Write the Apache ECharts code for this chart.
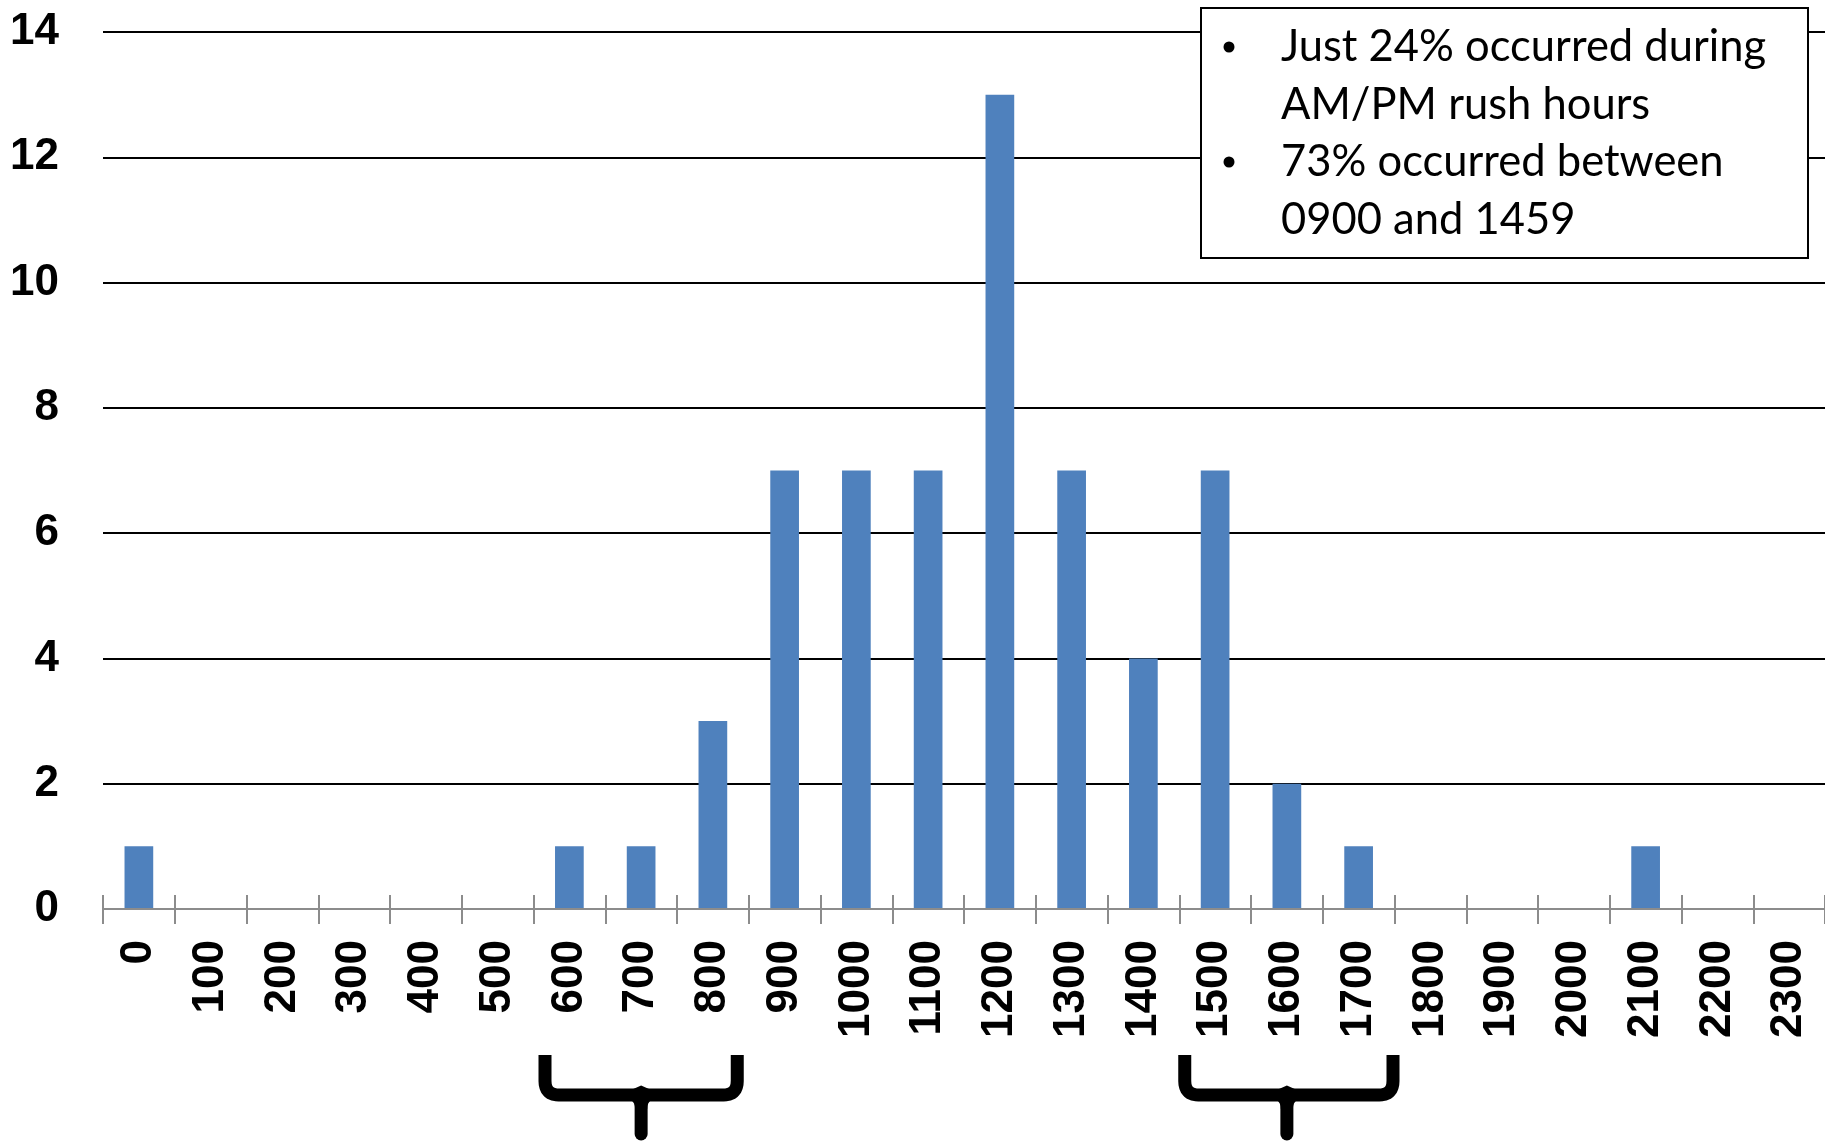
<!DOCTYPE html>
<html>
<head>
<meta charset="utf-8">
<script src="https://cdn.jsdelivr.net/npm/echarts@6/dist/echarts.min.js"></script>
<style>
  html, body { margin: 0; padding: 0; background: #ffffff; }
  #chart { width: 1825px; height: 1143px; }
</style>
</head>
<body>
<div id="chart"></div>
<script>
// Time-of-day bins (hhmm, hourly) and the number of incidents in each
const hours = ['0', '100', '200', '300', '400', '500', '600', '700', '800', '900', '1000', '1100',
               '1200', '1300', '1400', '1500', '1600', '1700', '1800', '1900', '2000', '2100', '2200', '2300'];
const counts = [1, 0, 0, 0, 0, 0, 1, 1, 3, 7, 7, 7, 13, 7, 4, 7, 2, 1, 0, 0, 0, 1, 0, 0];

// Count axis range
const countMin = 0;
const countMax = 14;
const countStep = 2;

// Rush-hour windows marked with braces under the axis
const rushWindows = [['600', '800'], ['1500', '1700']];

// Text of the note box
const noteLines = [
  { bullet: true,  text: 'Just 24% occurred during' },
  { bullet: false, text: 'AM/PM rush hours' },
  { bullet: true,  text: '73% occurred between' },
  { bullet: false, text: '0900 and 1459' }
];

const chart = echarts.init(document.getElementById('chart'), null, { renderer: 'canvas' });

const tickColor = '#8c8c8c';
const axisFont = { fontFamily: '"Liberation Sans", Arial, sans-serif', fontWeight: 'bold', fontSize: 44, color: '#000' };

chart.setOption({
  animation: false,
  backgroundColor: '#ffffff',
  grid: { left: 103, right: 0, top: 32, bottom: 234, containLabel: false },
  xAxis: [
    {
      type: 'category',
      data: hours,
      boundaryGap: true,
      z: 3,
      axisLine: { show: true, lineStyle: { color: tickColor, width: 2 } },
      axisTick: { show: true, interval: 0, length: 15, inside: false, lineStyle: { color: tickColor, width: 2 } },
      axisLabel: Object.assign({ interval: 0, rotate: 90, margin: 31 }, axisFont),
      splitLine: { show: false }
    },
    {
      // same band scale, drawing the upper half of each tick mark
      type: 'category',
      data: hours,
      position: 'bottom',
      boundaryGap: true,
      z: 3,
      axisLine: { show: false },
      axisTick: { show: true, interval: 0, length: 14, inside: true, lineStyle: { color: tickColor, width: 2 } },
      axisLabel: { show: false },
      splitLine: { show: false }
    }
  ],
  yAxis: {
    type: 'value',
    min: countMin,
    max: countMax,
    interval: countStep,
    axisLine: { show: false },
    axisTick: { show: false },
    axisLabel: Object.assign({ margin: 44 }, axisFont),
    splitLine: { show: true, lineStyle: { color: '#000000', width: 2 } }
  },
  series: [{
    type: 'bar',
    data: counts,
    xAxisIndex: 0,
    barWidth: '40%',
    itemStyle: { color: '#4f81bd' },
    z: 2
  }]
});

// Note box in the upper right
const noteFont = { fontFamily: 'Lato, "Open Sans", sans-serif', fontSize: 43.5, fill: '#000' };
const boxX = 1201, boxY = 8, boxW = 607, boxH = 250;
const lineStart = 80, lineGap = 57.5;
const noteChildren = [{
  type: 'rect',
  shape: { x: 0, y: 0, width: boxW, height: boxH },
  style: { fill: '#ffffff', stroke: '#000000', lineWidth: 2 }
}];
noteLines.forEach(function (ln, i) {
  const cy = 39 + i * lineGap;
  if (ln.bullet) {
    noteChildren.push({
      type: 'circle',
      shape: { cx: 28, cy: cy, r: 5.5 },
      style: { fill: '#000000' }
    });
  }
  noteChildren.push({
    type: 'text',
    x: lineStart, y: cy,
    style: Object.assign({ text: ln.text, textAlign: 'left', textVerticalAlign: 'middle' }, noteFont)
  });
});

// corner sampled as a quadratic curve
function quad(p0, p1, p2, n) {
  const pts = [];
  for (let k = 0; k <= n; k++) {
    const t = k / n, u = 1 - t;
    pts.push([u * u * p0[0] + 2 * u * t * p1[0] + t * t * p2[0], u * u * p0[1] + 2 * u * t * p1[1] + t * t * p2[1]]);
  }
  return pts;
}

// Braces under the rush-hour bins, placed on the category axis
// (insets: how far each brace end sits inside the outer band edges)
const braceInsets = [[5, 5], [-1, -5]];
function braceElements(first, last, inset) {
  const band = chart.convertToPixel({ xAxisIndex: 0 }, hours[1]) - chart.convertToPixel({ xAxisIndex: 0 }, hours[0]);
  const left = chart.convertToPixel({ xAxisIndex: 0 }, first) - band / 2 + inset[0];
  const right = chart.convertToPixel({ xAxisIndex: 0 }, last) + band / 2 - inset[1];
  const c = (chart.convertToPixel({ xAxisIndex: 0 }, first) + chart.convertToPixel({ xAxisIndex: 0 }, last)) / 2;
  const top = 1055, bar = 1095, bottom = 1134, w = 13, rad = 14;
  const l = left + w / 2, r = right - w / 2;
  let pts = [[l, top]];
  pts = pts.concat(quad([l, bar - rad], [l, bar], [l + rad, bar], 8));
  pts = pts.concat(quad([r - rad, bar], [r, bar], [r, bar - rad], 8));
  pts.push([r, top]);
  const flare = [[c - 16, bar + 4]].concat(quad([c - 16, bar + 4], [c - 6, bar + 4], [c - 6, bar + 14], 6))
    .concat([[c + 6, bar + 14]]).concat(quad([c + 6, bar + 14], [c + 6, bar + 4], [c + 16, bar + 4], 6));
  return [
    { type: 'polyline', shape: { points: pts }, style: { fill: null, stroke: '#000', lineWidth: w, lineCap: 'butt', lineJoin: 'round' } },
    { type: 'line', shape: { x1: c, y1: bar, x2: c, y2: bottom }, style: { stroke: '#000', lineWidth: w, lineCap: 'round' } },
    { type: 'polygon', shape: { points: [[c - 9, bar - w / 2 + 1], [c, bar - w / 2 - 3], [c + 9, bar - w / 2 + 1]] }, style: { fill: '#000' } },
    { type: 'polygon', shape: { points: flare }, style: { fill: '#000' } }
  ];
}

let braces = [];
rushWindows.forEach(function (win, i) { braces = braces.concat(braceElements(win[0], win[1], braceInsets[i])); });

chart.setOption({
  graphic: [
    { type: 'group', x: boxX, y: boxY, z: 100, children: noteChildren },
    { type: 'group', z: 100, children: braces }
  ]
});
</script>
</body>
</html>
